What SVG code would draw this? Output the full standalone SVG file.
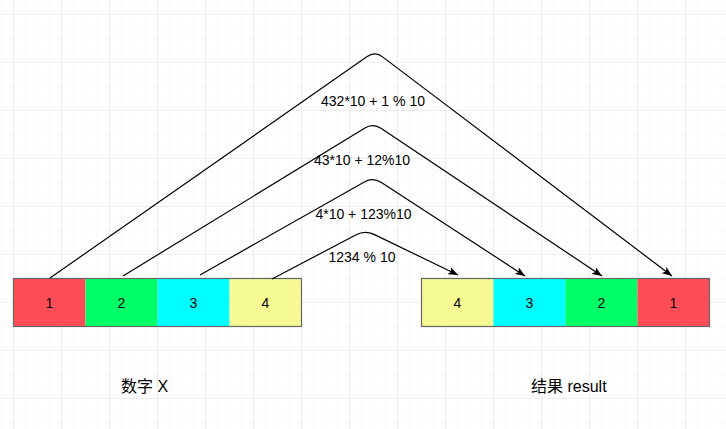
<svg xmlns="http://www.w3.org/2000/svg" width="726" height="429" viewBox="0 0 726 429">
<style>
  .lbl { font-family: "Liberation Sans", Helvetica, Arial, sans-serif; font-size: 14px; fill: #000; text-anchor: middle; }
  .num { font-family: "Liberation Sans", Helvetica, Arial, sans-serif; font-size: 14px; fill: #000; text-anchor: middle; }
  .cap { font-family: "Liberation Sans", "Noto Sans CJK SC", sans-serif; font-size: 16px; fill: #000; }
  .edge { fill: none; stroke: #000; stroke-width: 1.2; }
  .row { fill: none; stroke: #666; stroke-width: 1.2; }
</style>
<defs>
  <pattern id="minor" x="13" y="14" width="12" height="12" patternUnits="userSpaceOnUse">
    <path d="M0,0 H12 M0,0 V12" fill="none" stroke="#f3f3f3" stroke-width="1"/>
  </pattern>
  <pattern id="major" x="13" y="14" width="48" height="48" patternUnits="userSpaceOnUse">
    <path d="M0,0 H48 M0,0 V48" fill="none" stroke="#e2e2e2" stroke-width="1.2"/>
  </pattern>
  <marker id="arr" viewBox="0 0 10 8" markerUnits="userSpaceOnUse" markerWidth="10" markerHeight="8" refX="10" refY="4" orient="auto">
    <path d="M0,0 L10,4 L0,8 L2.5,4 Z" fill="#000"/>
  </marker>
</defs>
<rect width="726" height="429" fill="#fff"/>
<rect width="726" height="429" fill="url(#minor)"/>
<rect width="726" height="429" fill="url(#major)"/>

<g id="left-row">
  <rect x="13.5" y="278.5" width="72" height="48" fill="#ff4d57"/>
  <rect x="85.5" y="278.5" width="72" height="48" fill="#00ff66"/>
  <rect x="157.5" y="278.5" width="72" height="48" fill="#00ffff"/>
  <rect x="229.5" y="278.5" width="72" height="48" fill="#f6fa94"/>
  <rect class="row" x="13.5" y="278.5" width="288" height="48"/>
</g>
<g id="l1"><text class="num" x="49.5" y="308">1</text></g>
<g id="l2"><text class="num" x="121.5" y="308">2</text></g>
<g id="l3"><text class="num" x="193.5" y="308">3</text></g>
<g id="l4"><text class="num" x="265.5" y="308">4</text></g>

<g id="right-row">
  <rect x="421.5" y="278.5" width="72" height="48" fill="#f6fa94"/>
  <rect x="493.5" y="278.5" width="72" height="48" fill="#00ffff"/>
  <rect x="565.5" y="278.5" width="72" height="48" fill="#00ff66"/>
  <rect x="637.5" y="278.5" width="72" height="48" fill="#ff4d57"/>
  <rect class="row" x="421.5" y="278.5" width="288" height="48"/>
</g>
<g id="r4"><text class="num" x="457.5" y="308">4</text></g>
<g id="r3"><text class="num" x="529.5" y="308">3</text></g>
<g id="r2"><text class="num" x="601.5" y="308">2</text></g>
<g id="r1"><text class="num" x="673.5" y="308">1</text></g>

<g id="connectors">
  <path class="edge" marker-end="url(#arr)" d="M50,278 L366.8,56.8 Q375,51 382.9,57.1 L672,276"/>
  <path class="edge" marker-end="url(#arr)" d="M123,276 L364.5,128.2 Q373,123 381.3,128.6 L602,276"/>
  <path class="edge" marker-end="url(#arr)" d="M200,275 L364.3,181.9 Q373,177 381.4,182.5 L525,276"/>
  <path class="edge" marker-end="url(#arr)" d="M272,279 L356.2,234.7 Q365,230 374,234.4 L458,275"/>
  <text class="lbl" x="373" y="106">432*10 + 1 % 10</text>
  <text class="lbl" x="362" y="165">43*10 + 12%10</text>
  <text class="lbl" x="363.5" y="219">4*10 + 123%10</text>
  <text class="lbl" x="362" y="262">1234 % 10</text>
</g>

<g id="caption-x"><text class="cap" x="121" y="392">数字 X</text></g>
<g id="caption-result"><text class="cap" x="531" y="392">结果 result</text></g>
</svg>
